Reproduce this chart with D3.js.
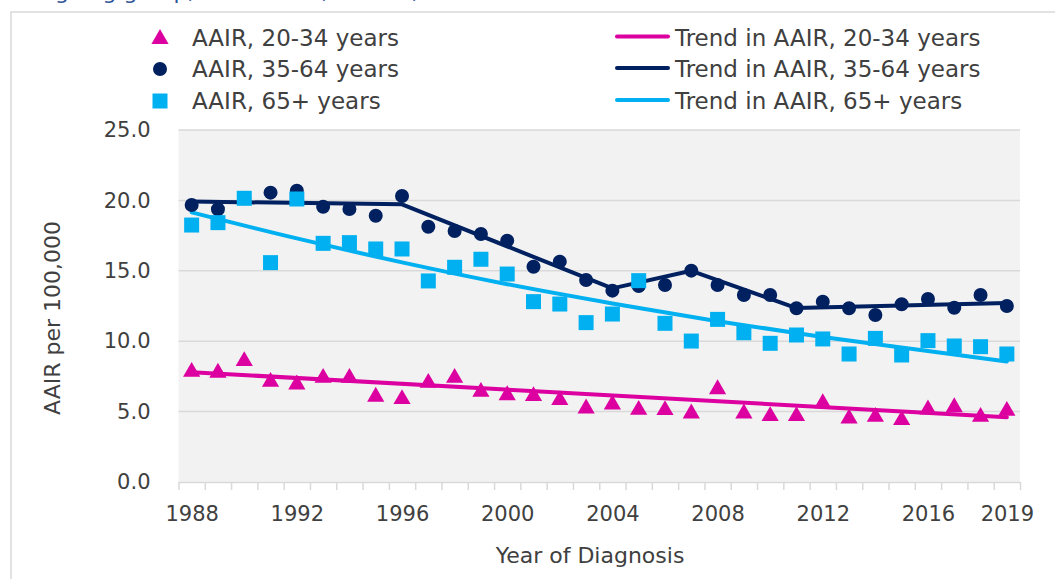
<!DOCTYPE html>
<html>
<head>
<meta charset="utf-8">
<script src="https://cdn.jsdelivr.net/npm/d3@7"></script>
<style>
  html, body { margin: 0; padding: 0; background: #ffffff; }
  svg { display: block; }
  text { font-family: "DejaVu Sans", sans-serif; fill: #404040; }
</style>
</head>
<body>
<svg id="chart" width="1055" height="579"></svg>
<script>
// ---------------- data ----------------
const years = [1988,1989,1990,1991,1992,1993,1994,1995,1996,1997,1998,1999,2000,2001,2002,2003,
               2004,2005,2006,2007,2008,2009,2010,2011,2012,2013,2014,2015,2016,2017,2018,2019];
const aair2034 = [7.93,7.87,8.69,7.22,7.03,7.5,7.5,6.16,5.99,7.15,7.5,6.51,6.27,6.21,5.92,5.33,
                  5.61,5.23,5.21,4.97,6.7,4.97,4.79,4.79,5.7,4.62,4.73,4.5,5.26,5.42,4.73,5.16];
const aair3564 = [19.67,19.37,20.15,20.55,20.69,19.55,19.39,18.91,20.31,18.13,17.83,17.61,17.14,15.29,15.65,14.35,
                  13.59,13.92,13.99,15.01,13.99,13.28,13.28,12.34,12.81,12.34,11.86,12.62,13.0,12.38,13.28,12.5];
const aair65 = [18.25,18.42,20.15,15.58,20.1,16.95,17.0,16.55,16.55,14.28,15.25,15.82,14.77,12.81,12.64,11.32,
                11.93,14.3,11.27,10.01,11.55,10.6,9.85,10.44,10.16,9.09,10.2,9.02,10.04,9.66,9.61,9.09];

const trend2034Years = [1988, 2019];
const trend2034 = [7.8, 4.6];
const trend3564Years = [1988, 1996, 2004, 2007, 2011, 2019];
const trend3564 = [19.92, 19.72, 13.75, 15.0, 12.35, 12.72];
const trend65Years = [1988, 1992, 1996, 2000, 2004, 2008, 2012, 2016, 2019];
const trend65 = [19.15, 17.3, 15.6, 14.05, 12.68, 11.42, 10.3, 9.3, 8.56];

const yTicks = [0, 5, 10, 15, 20, 25];
const xTickLabels = [1988, 1992, 1996, 2000, 2004, 2008, 2012, 2016, 2019];

const seriesNames = ["AAIR, 20-34 years", "AAIR, 35-64 years", "AAIR, 65+ years"];
const trendNames = ["Trend in AAIR, 20-34 years", "Trend in AAIR, 35-64 years", "Trend in AAIR, 65+ years"];
const colors = ["#dc00a0", "#002060", "#00b0f0"];

// ---------------- layout ----------------
const svg = d3.select("#chart");
const plot = { left: 178.5, right: 1020, top: 130, bottom: 482 };

const x = d3.scaleLinear().domain([years[0] - 0.5, years[years.length - 1] + 0.5]).range([plot.left, plot.right]);
const y = d3.scaleLinear().domain([0, 25]).range([plot.bottom, plot.top]);

// blue caption fragment, clipped at the top edge as in the reference
svg.append("text").attr("x", 40).attr("y", -1)
  .style("fill", "#2f5597").style("font-size", "22px")
  .text("Ageing group, 1988-2019, Ireland, all cancers");

// outer chart border
svg.append("rect").attr("x", 11).attr("y", 12).attr("width", 1100).attr("height", 620)
  .attr("fill", "none").attr("stroke", "#d9d9d9").attr("stroke-width", 1.5);

// plot background
svg.append("rect").attr("x", plot.left).attr("y", plot.top)
  .attr("width", plot.right - plot.left).attr("height", plot.bottom - plot.top)
  .attr("fill", "#f2f2f2");

// gridlines
svg.append("g").selectAll("line").data(yTicks.filter(d => d > 0)).join("line")
  .attr("x1", plot.left).attr("x2", plot.right)
  .attr("y1", d => y(d)).attr("y2", d => y(d))
  .attr("stroke", "#d9d9d9").attr("stroke-width", 1.5);

// y axis labels
const yAxis = d3.axisLeft(y).tickValues(yTicks).tickFormat(d3.format(".1f")).tickSize(0).tickPadding(28);
const gy = svg.append("g").attr("transform", `translate(${plot.left},0)`).call(yAxis);
gy.select(".domain").remove();
gy.selectAll("text").style("font-size", "21px").style("fill", "#404040").style("font-family", "DejaVu Sans");

// x axis line + ticks at category boundaries
const boundaries = years.map(d => d - 0.5).concat([years[years.length - 1] + 0.5]);
const xAxisTicks = d3.axisBottom(x).tickValues(boundaries).tickFormat("").tickSizeInner(8).tickSizeOuter(0);
const gx = svg.append("g").attr("transform", `translate(0,${plot.bottom})`).call(xAxisTicks);
gx.select(".domain").attr("stroke", "#d9d9d9").attr("stroke-width", 1.5);
gx.selectAll(".tick line").attr("stroke", "#d9d9d9").attr("stroke-width", 1.5);

const xAxisLabels = d3.axisBottom(x).tickValues(xTickLabels).tickFormat(d3.format("d")).tickSize(0).tickPadding(24);
const gxl = svg.append("g").attr("transform", `translate(0,${plot.bottom})`).call(xAxisLabels);
gxl.select(".domain").remove();
gxl.selectAll("text").style("font-size", "21px").style("fill", "#404040").style("font-family", "DejaVu Sans");

// axis titles
svg.append("text").attr("x", 590).attr("y", 563).attr("text-anchor", "middle")
  .style("font-size", "22px").text("Year of Diagnosis");
svg.append("text").attr("transform", "translate(60,318) rotate(-90)").attr("text-anchor", "middle")
  .style("font-size", "22px").text("AAIR per 100,000");

// trend lines (joinpoint segments; 65+ trend is a smooth curve)
const trends = [
  { yrs: trend2034Years, vals: trend2034, color: colors[0], curve: d3.curveLinear },
  { yrs: trend3564Years, vals: trend3564, color: colors[1], curve: d3.curveLinear },
  { yrs: trend65Years, vals: trend65, color: colors[2], curve: d3.curveMonotoneX }
];
trends.forEach(t => {
  const line = d3.line().x(d => x(d[0])).y(d => y(d[1])).curve(t.curve);
  svg.append("path").datum(t.yrs.map((yr, i) => [yr, t.vals[i]]))
    .attr("d", line).attr("fill", "none").attr("stroke", t.color)
    .attr("stroke-width", 4).attr("stroke-linejoin", "round").attr("stroke-linecap", "round");
});

// markers
const symbols = [d3.symbol(d3.symbolTriangle, 128), d3.symbol(d3.symbolCircle, 154), d3.symbol(d3.symbolSquare, 225)];
const seriesVals = [aair2034, aair3564, aair65];
seriesVals.forEach((vals, s) => {
  svg.append("g").selectAll("path").data(years.map((yr, i) => [yr, vals[i]])).join("path")
    .attr("d", symbols[s])
    .attr("transform", d => `translate(${x(d[0])},${y(d[1]) + (s === 0 ? 1.5 : 0)})`)
    .attr("fill", colors[s]);
});

// legend
const rowsY = [37.5, 69, 101];
const legend = svg.append("g");
seriesNames.forEach((name, i) => {
  legend.append("path").attr("d", symbols[i])
    .attr("transform", `translate(160,${rowsY[i] + (i === 0 ? 1.5 : 0)})`).attr("fill", colors[i]);
  legend.append("text").attr("x", 192).attr("y", rowsY[i]).attr("dy", "0.36em")
    .style("font-size", "23px").text(name);
});
trendNames.forEach((name, i) => {
  legend.append("line").attr("x1", 617).attr("x2", 668).attr("y1", rowsY[i] - 1).attr("y2", rowsY[i] - 1)
    .attr("stroke", colors[i]).attr("stroke-width", 4).attr("stroke-linecap", "round");
  legend.append("text").attr("x", 675).attr("y", rowsY[i]).attr("dy", "0.36em")
    .style("font-size", "23px").text(name);
});
</script>
</body>
</html>
